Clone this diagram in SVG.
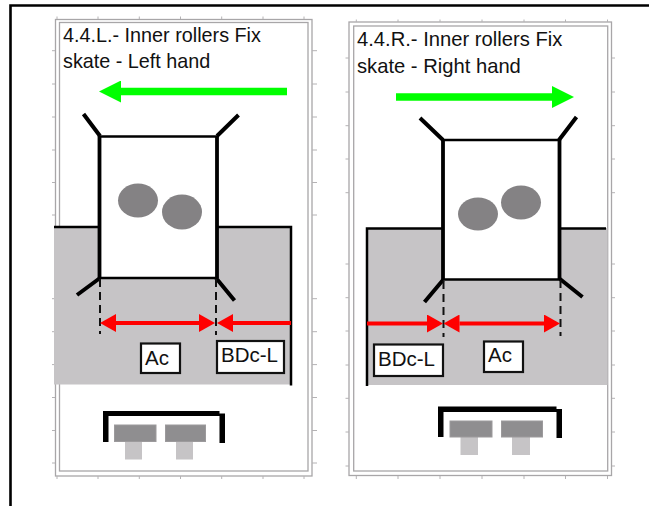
<svg xmlns="http://www.w3.org/2000/svg" width="649" height="506" viewBox="0 0 649 506">
<style>
.frame{fill:none;stroke:#a8a6a8;stroke-width:1.3}
.tick{fill:none;stroke:#b4b2b4;stroke-width:1}
.ground{fill:#c6c4c6;stroke:none}
.edge{fill:none;stroke:#000;stroke-width:2.5}
.boot{fill:#fff;stroke:none}
.wall{fill:none;stroke:#000;stroke-width:3.8}
.flare{fill:none;stroke:#000;stroke-width:4;stroke-linecap:butt}
.top{fill:none;stroke:#000;stroke-width:2.4}
.roller{fill:#848284;stroke:none}
.label{fill:#fff;stroke:#111;stroke-width:2.2}
.t{font-family:"Liberation Sans",Arial,sans-serif;font-size:19.8px;fill:#111}
.tr{font-size:20.2px}
.tl{font-size:20.5px}
.dash{fill:none;stroke:#111;stroke-width:2;stroke-dasharray:8 5}
.red{fill:none;stroke:#ff0000;stroke-width:4}
.green{fill:none;stroke:#00ff00;stroke-width:7.5}
.bar{fill:#000;stroke:none}
.head{fill:#8f8e90;stroke:#9c9a9c;stroke-width:1}
.stem{fill:#c6c4c6;stroke:none}
</style>
<defs>
<marker id="redHead" markerUnits="userSpaceOnUse" viewBox="0 0 16 18" markerWidth="16" markerHeight="18" refX="0" refY="9" orient="auto-start-reverse"><path d="M0 0L16 9L0 18Z" fill="#ff0000"/></marker>
<marker id="greenHead" markerUnits="userSpaceOnUse" viewBox="0 0 22 22" markerWidth="22" markerHeight="22" refX="0" refY="11" orient="auto"><path d="M0 0L22 11L0 22Z" fill="#00ff00"/></marker>
</defs>
<rect width="649" height="506" fill="#fff"/>
<path d="M10.5 506V5.5H649" fill="none" stroke="#000" stroke-width="2.6"/>

<g id="panel-left">
<rect class="frame" x="55.5" y="19.5" width="256.500" height="456.500"/>
<rect class="frame" x="59.500" y="22.500" width="248.500" height="448.500"/>
<path class="tick" d="M57 16.500V19M98 16.500V19M139.300 16.500V19M180.500 16.500V19M221.700 16.500V19M263 16.500V19M304 16.500V19M57 476V479M98 476V479M139.300 476V479M180.500 476V479M221.700 476V479M263 476V479M304 476V479M52 50.700H55M52 84H55M52 117H55M52 150H55M52 182.500H55M52 215H55M52 298.700H55M52 331.700H55M52 364.600H55M52 397.500H55M52 430.500H55M52 463H55M312 50.700H317M312 84H317M312 117H317M312 150H317M312 182.500H317M312 215H317M312 298.700H317M312 331.700H317M312 364.600H317M312 397.500H317M312 430.500H317M312 463H317"/>
</g>
<g id="panel-right">
<rect class="frame" x="349" y="22" width="262.500" height="453.500"/>
<rect class="frame" x="353.700" y="26" width="254" height="445"/>
<path class="tick" d="M356.300 19.500V22M398 19.500V22M440 19.500V22M482 19.500V22M524 19.500V22M565.500 19.500V22M607.500 19.500V22M356.300 476V479M398 476V479M440 476V479M482 476V479M524 476V479M565.500 476V479M607.500 476V479M345.500 58H349M345.500 92H349M345.500 125.700H349M345.500 159H349M345.500 192.700H349M345.500 264H349M345.500 297.700H349M345.500 331H349M345.500 365H349M345.500 398.300H349M345.500 432H349M345.500 466H349M612 58H615M612 92H615M612 125.700H615M612 159H615M612 192.700H615M612 264H615M612 297.700H615M612 331H615M612 365H615M612 398.300H615M612 432H615M612 466H615"/>
</g>

<g id="title-left"><text class="t" x="63" y="41.500">4.4.L.- Inner rollers Fix</text><text class="t" x="63" y="67.500">skate - Left hand</text></g>
<g id="title-right"><text class="t tr" x="357" y="46">4.4.R.- Inner rollers Fix</text><text class="t tr" x="357" y="72.500">skate - Right hand</text></g>

<g id="ground-left">
<rect class="ground" x="54" y="227" width="237.500" height="157.500"/>
<path class="edge" d="M54 227H291V385.500"/>
</g>
<g id="ground-right">
<rect class="ground" x="367" y="228" width="240.500" height="157"/>
<path class="edge" d="M606 228.500H367V386"/>
</g>

<g id="boot-left">
<rect class="boot" x="100" y="136.500" width="117" height="141.500"/>
<path class="top" d="M100 136.500H217M100 278H216"/>
<path class="wall" d="M99.500 136V278M217 136V278"/>
<path class="flare" d="M100 136L83.500 114M217 136L238.500 115M100 278L77 295M216 278L234.500 300.500"/>
<ellipse class="roller" cx="138" cy="200.500" rx="20" ry="17"/>
<ellipse class="roller" cx="182" cy="212" rx="20" ry="17.500"/>
</g>
<g id="boot-right">
<rect class="boot" x="443" y="140" width="117" height="139"/>
<path class="top" d="M443 140H559.500M443 279.500H560"/>
<path class="wall" d="M443 140V280M559.500 140V279"/>
<path class="flare" d="M443 140L420 118M559 140L576.500 117M443 280L424.500 302M560 279L582.500 297"/>
<ellipse class="roller" cx="478" cy="214" rx="20" ry="16.500"/>
<ellipse class="roller" cx="521" cy="202.500" rx="20" ry="17"/>
</g>

<g id="connectors">
<path class="green" d="M287 91.500H121" marker-end="url(#greenHead)"/>
<path class="green" d="M396 97H552" marker-end="url(#greenHead)"/>
<path class="dash" d="M100 279V334M216 279V335M443.500 281V337M560.500 280V336"/>
<path class="red" d="M116 323H199" marker-start="url(#redHead)" marker-end="url(#redHead)"/>
<path class="red" d="M291 323H233" marker-end="url(#redHead)"/>
<path class="red" d="M367 323.500H427" marker-end="url(#redHead)"/>
<path class="red" d="M459.500 323.500H544" marker-start="url(#redHead)" marker-end="url(#redHead)"/>
</g>

<g id="label-ac-left"><rect class="label" x="141" y="343.500" width="39" height="29.500"/><text class="t tl" x="145" y="364.500">Ac</text></g>
<g id="label-bdc-left"><rect class="label" x="217" y="341" width="67" height="32"/><text class="t tl" x="221" y="361.500">BDc-L</text></g>
<g id="label-bdc-right"><rect class="label" x="374" y="344.500" width="69" height="31.500"/><text class="t tl" x="378" y="365.500">BDc-L</text></g>
<g id="label-ac-right"><rect class="label" x="484" y="341.500" width="39" height="30.500"/><text class="t tl" x="488" y="362">Ac</text></g>

<g id="truck-left">
<rect class="stem" x="125" y="441" width="17" height="18.500"/><rect class="stem" x="176" y="441" width="17" height="18.500"/>
<rect class="head" x="114.500" y="425" width="41.500" height="16.500"/><rect class="head" x="165.500" y="425" width="40" height="16.500"/>
<path class="bar" d="M103 411H219.500V413.500H225V443H219.500V416H108.500V442H103Z"/>
</g>
<g id="truck-right">
<rect class="stem" x="460.500" y="437" width="17.500" height="18"/><rect class="stem" x="512" y="437" width="18" height="18"/>
<rect class="head" x="450" y="421" width="42" height="16"/><rect class="head" x="501.500" y="421" width="41" height="16"/>
<path class="bar" d="M438 406.500H556.500V409H562V438H556.500V412H443.500V437H438Z"/>
</g>
</svg>
